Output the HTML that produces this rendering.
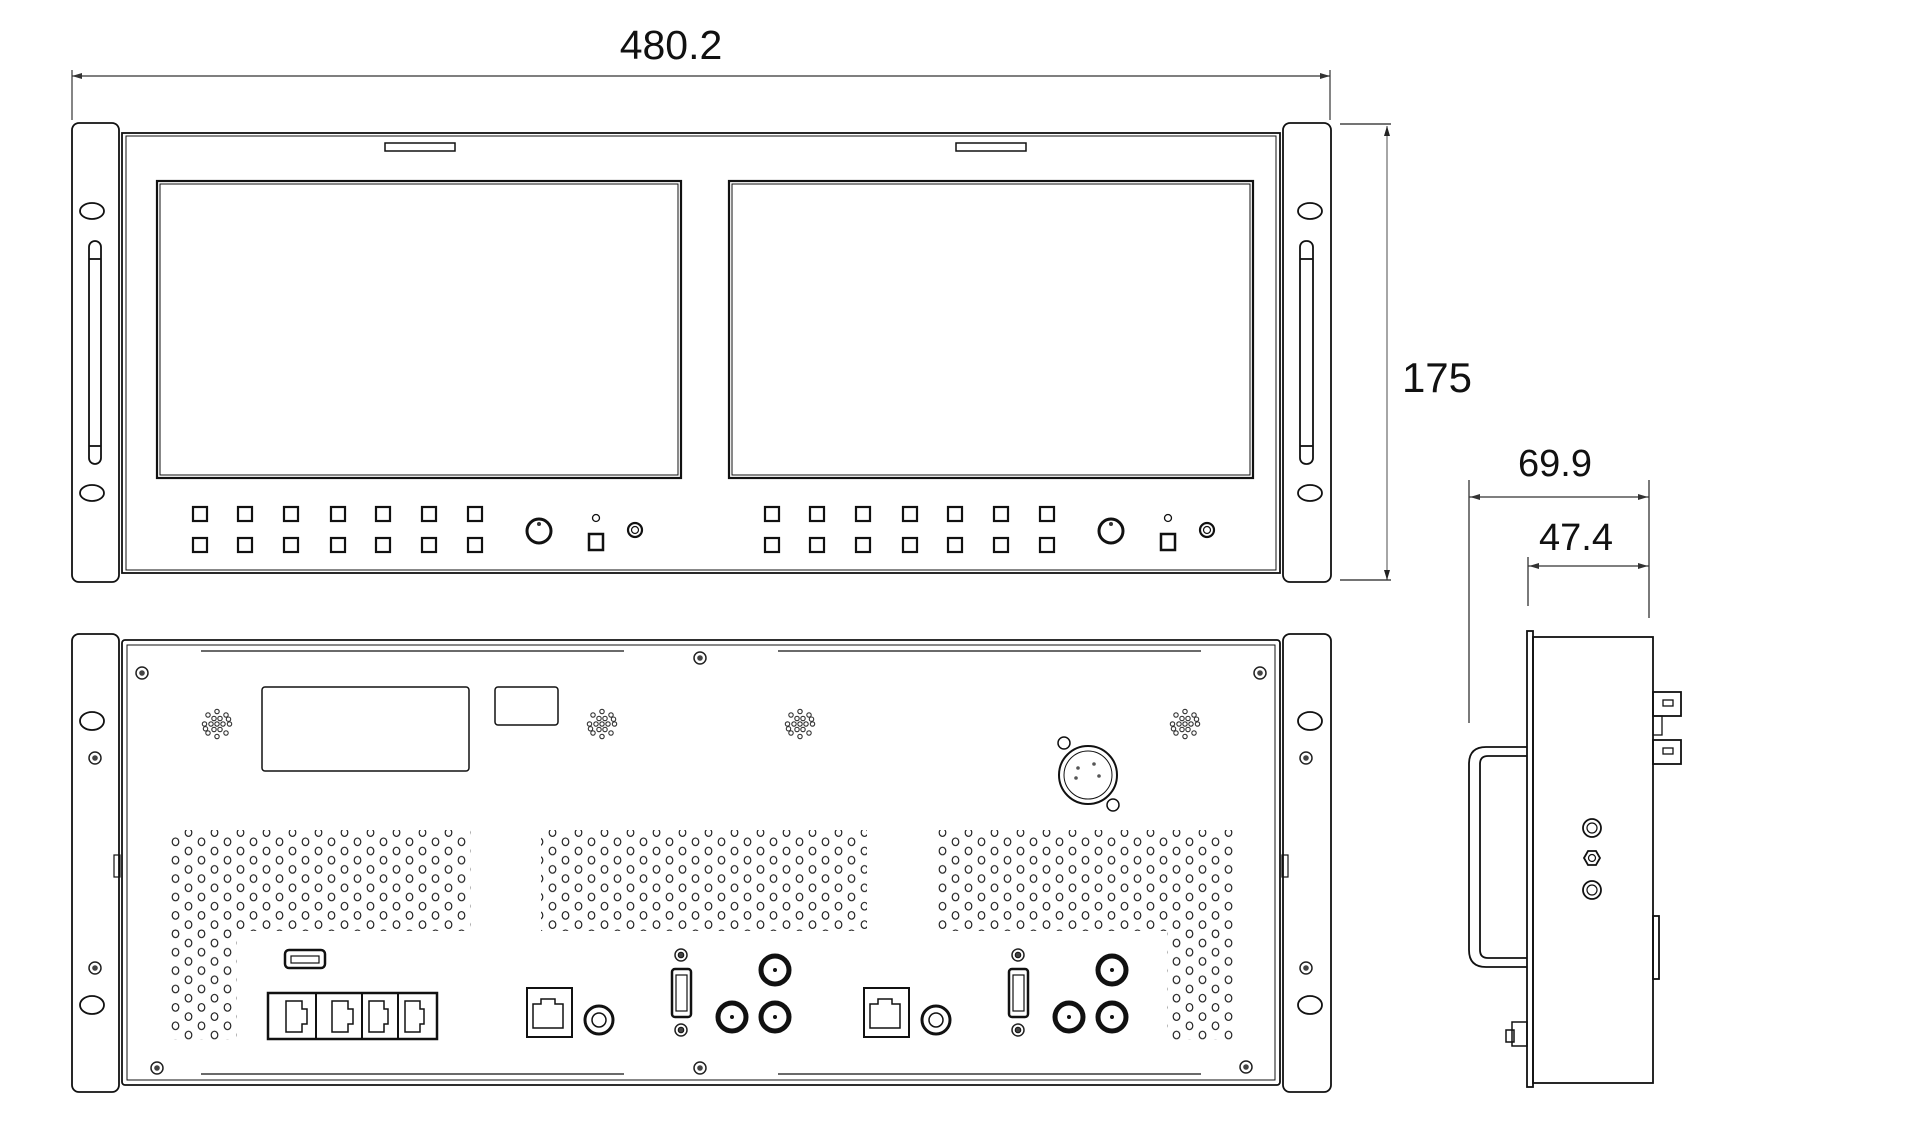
<!DOCTYPE html>
<html><head><meta charset="utf-8"><style>
html,body{margin:0;padding:0;background:#fff}
svg{display:block}
text{font-family:"Liberation Sans",sans-serif;fill:#111}
</style></head><body>
<svg width="1920" height="1139" viewBox="0 0 1920 1139" xmlns="http://www.w3.org/2000/svg">
<defs>
<pattern id="vent" x="0" y="0" width="26" height="18.4" patternUnits="userSpaceOnUse">
<ellipse cx="6.5" cy="4.6" rx="3.3" ry="3.8" fill="none" stroke="#222" stroke-width="1.2"/>
<ellipse cx="19.5" cy="13.8" rx="3.3" ry="3.8" fill="none" stroke="#222" stroke-width="1.2"/>
</pattern>
<g id="spk" fill="none" stroke="#333" stroke-width="1.1">
<circle cx="0" cy="0" r="2.2"/>
<circle cx="6" cy="0" r="2.2"/><circle cx="-6" cy="0" r="2.2"/><circle cx="3" cy="5.5" r="2.2"/><circle cx="-3" cy="5.5" r="2.2"/><circle cx="3" cy="-5.5" r="2.2"/><circle cx="-3" cy="-5.5" r="2.2"/>
<circle cx="12.5" cy="0" r="2.2"/><circle cx="-12.5" cy="0" r="2.2"/><circle cx="0" cy="12.5" r="2.2"/><circle cx="0" cy="-12.5" r="2.2"/>
<circle cx="9" cy="9" r="2.2"/><circle cx="-9" cy="9" r="2.2"/><circle cx="9" cy="-9" r="2.2"/><circle cx="-9" cy="-9" r="2.2"/>
<circle cx="11.5" cy="-4.8" r="2.2"/><circle cx="-11.5" cy="4.8" r="2.2"/>
</g>
<g id="screw"><circle r="6" fill="none" stroke="#222" stroke-width="1.5"/><circle r="2.8" fill="#444"/></g>
<g id="bnc"><circle r="14" fill="none" stroke="#111" stroke-width="5"/><circle r="1.5" fill="#111"/></g>
<g id="fgroup" fill="none" stroke="#111" stroke-width="2.2">
<rect x="193" y="507" width="14" height="14"/><rect x="238" y="507" width="14" height="14"/><rect x="284" y="507" width="14" height="14"/><rect x="331" y="507" width="14" height="14"/><rect x="376" y="507" width="14" height="14"/><rect x="422" y="507" width="14" height="14"/><rect x="468" y="507" width="14" height="14"/>
<rect x="193" y="538" width="14" height="14"/><rect x="238" y="538" width="14" height="14"/><rect x="284" y="538" width="14" height="14"/><rect x="331" y="538" width="14" height="14"/><rect x="376" y="538" width="14" height="14"/><rect x="422" y="538" width="14" height="14"/><rect x="468" y="538" width="14" height="14"/>
<circle cx="539" cy="531" r="12" stroke-width="3"/><circle cx="539" cy="524" r="2" fill="#333" stroke="none"/>
<circle cx="596" cy="518" r="3.5" stroke-width="1.3"/>
<rect x="589" y="534" width="14" height="16" stroke-width="2.5"/>
<circle cx="635" cy="530" r="7" stroke-width="2.2"/><circle cx="635" cy="530" r="3.5" stroke-width="1.2"/>
</g>
<g id="rgroup" fill="none" stroke="#111">
<rect x="527" y="988" width="45" height="49" stroke-width="2"/>
<path d="M533 1028 V1004 h8 v-5 h14 v5 h8 v24 z" stroke-width="1.5"/>
<circle cx="599" cy="1020" r="14" stroke-width="3"/><circle cx="599" cy="1020" r="7" stroke-width="1.5"/>
<use href="#screw" x="681" y="955"/><use href="#screw" x="681" y="1030"/>
<rect x="672" y="969" width="19" height="48" rx="3" stroke-width="2.5"/><rect x="676" y="975" width="11" height="36" stroke-width="1.2"/>
<use href="#bnc" x="775" y="970"/><use href="#bnc" x="732" y="1017"/><use href="#bnc" x="775" y="1017"/>
</g>
</defs>

<!-- top dimension -->
<g stroke="#333" stroke-width="1.2" fill="none">
<line x1="72" y1="76" x2="1330" y2="76"/>
<line x1="72" y1="70" x2="72" y2="120"/><line x1="1330" y1="70" x2="1330" y2="120"/>
</g>
<path d="M72 76 l10 -3 v6 z M1330 76 l-10 -3 v6 z" fill="#333"/>
<text x="671" y="59" font-size="41" text-anchor="middle">480.2</text>

<!-- 175 dimension -->
<g stroke="#777" stroke-width="1.3"><line x1="1387" y1="126" x2="1387" y2="580"/></g>
<g stroke="#222" stroke-width="1.3"><line x1="1340" y1="124" x2="1391" y2="124"/><line x1="1340" y1="580" x2="1391" y2="580"/></g>
<path d="M1387 126 l-3 10 h6 z M1387 580 l-3 -10 h6 z" fill="#222"/>
<text x="1437" y="392" font-size="42" text-anchor="middle">175</text>

<!-- FRONT VIEW -->
<g fill="none" stroke="#111" stroke-width="1.8">
<rect x="72" y="123" width="47" height="459" rx="7"/>
<rect x="1283" y="123" width="48" height="459" rx="7"/>
<ellipse cx="92" cy="211" rx="12" ry="8"/><ellipse cx="92" cy="493" rx="12" ry="8"/>
<ellipse cx="1310" cy="211" rx="12" ry="8"/><ellipse cx="1310" cy="493" rx="12" ry="8"/>
<rect x="89" y="241" width="12" height="223" rx="6"/><line x1="89" y1="259" x2="101" y2="259"/><line x1="89" y1="446" x2="101" y2="446"/>
<rect x="1300" y="241" width="13" height="223" rx="6"/><line x1="1300" y1="259" x2="1313" y2="259"/><line x1="1300" y1="446" x2="1313" y2="446"/>
<rect x="122" y="133" width="1158" height="440"/>
<rect x="126" y="136" width="1150" height="434" stroke-width="1"/>
<rect x="157" y="181" width="524" height="297" stroke-width="2.2"/>
<rect x="160" y="184" width="518" height="291" stroke-width="1"/>
<rect x="729" y="181" width="524" height="297" stroke-width="2.2"/>
<rect x="732" y="184" width="518" height="291" stroke-width="1"/>
<rect x="385" y="143" width="70" height="8" stroke-width="1.5"/>
<rect x="956" y="143" width="70" height="8" stroke-width="1.5"/>
</g>
<use href="#fgroup"/>
<use href="#fgroup" x="572"/>

<!-- REAR VIEW -->
<g fill="none" stroke="#111" stroke-width="1.8">
<rect x="72" y="634" width="47" height="458" rx="7"/>
<rect x="1283" y="634" width="48" height="458" rx="7"/>
<ellipse cx="92" cy="721" rx="12" ry="9"/><ellipse cx="92" cy="1005" rx="12" ry="9"/>
<ellipse cx="1310" cy="721" rx="12" ry="9"/><ellipse cx="1310" cy="1005" rx="12" ry="9"/>
<rect x="122" y="640" width="1158" height="445" rx="3"/>
<rect x="127" y="645" width="1148" height="435" stroke-width="1"/>
<line x1="201" y1="651" x2="624" y2="651" stroke-width="1.2"/><line x1="778" y1="651" x2="1201" y2="651" stroke-width="1.2"/>
<line x1="201" y1="1074" x2="624" y2="1074" stroke-width="1.2"/><line x1="778" y1="1074" x2="1201" y2="1074" stroke-width="1.2"/>
<rect x="262" y="687" width="207" height="84" rx="3" stroke-width="1.5"/>
<rect x="495" y="687" width="63" height="38" rx="3" stroke-width="1.5"/>
<circle cx="1088" cy="775" r="29" stroke-width="2"/><circle cx="1088" cy="775" r="24" stroke-width="1"/>
<circle cx="1064" cy="743" r="6" stroke-width="1.5"/><circle cx="1113" cy="805" r="6" stroke-width="1.5"/>
<rect x="114" y="855" width="6" height="22" stroke-width="1.2"/><rect x="1282" y="855" width="6" height="22" stroke-width="1.2"/>
</g>
<g fill="#555"><circle cx="1078" cy="768" r="1.8"/><circle cx="1094" cy="764" r="1.8"/><circle cx="1076" cy="778" r="1.8"/><circle cx="1099" cy="776" r="1.8"/></g>
<use href="#spk" x="217" y="724"/><use href="#spk" x="602" y="724"/><use href="#spk" x="800" y="724"/><use href="#spk" x="1185" y="724"/>
<use href="#screw" x="142" y="673"/><use href="#screw" x="700" y="658"/><use href="#screw" x="1260" y="673"/>
<use href="#screw" x="157" y="1068"/><use href="#screw" x="700" y="1068"/><use href="#screw" x="1246" y="1067"/>
<use href="#screw" x="95" y="758"/><use href="#screw" x="95" y="968"/><use href="#screw" x="1306" y="758"/><use href="#screw" x="1306" y="968"/>

<!-- vents -->
<rect x="171" y="830" width="300" height="101" fill="url(#vent)"/>
<rect x="171" y="930" width="66" height="110" fill="url(#vent)"/>
<rect x="541" y="830" width="326" height="101" fill="url(#vent)"/>
<rect x="937" y="830" width="300" height="101" fill="url(#vent)"/>
<rect x="1167" y="930" width="66" height="110" fill="url(#vent)"/>

<!-- USB + RJ45 quad -->
<g fill="none" stroke="#111">
<rect x="285" y="950" width="40" height="18" rx="4" stroke-width="2.5"/><rect x="291" y="956" width="28" height="7" stroke-width="1.2"/>
<rect x="268" y="993" width="169" height="46" stroke-width="2.5"/>
<line x1="316" y1="993" x2="316" y2="1039" stroke-width="2"/><line x1="362" y1="993" x2="362" y2="1039" stroke-width="2"/><line x1="398" y1="993" x2="398" y2="1039" stroke-width="2"/>
<path d="M286 1032 V1001 h16 v8 h5 v15 h-5 v8 z M332 1032 V1001 h16 v8 h5 v15 h-5 v8 z M369 1032 V1001 h15 v8 h4 v15 h-4 v8 z M405 1032 V1001 h15 v8 h4 v15 h-4 v8 z" stroke-width="1.5"/>
</g>
<use href="#rgroup"/>
<use href="#rgroup" x="337"/>

<!-- SIDE VIEW -->
<text x="1555" y="476" font-size="38" text-anchor="middle">69.9</text>
<text x="1576" y="550" font-size="38" text-anchor="middle">47.4</text>
<g stroke="#333" stroke-width="1.3">
<line x1="1469" y1="497" x2="1649" y2="497"/><line x1="1469" y1="480" x2="1469" y2="723"/><line x1="1649" y1="480" x2="1649" y2="618"/>
<line x1="1528" y1="566" x2="1649" y2="566"/><line x1="1528" y1="557" x2="1528" y2="606"/>
</g>
<path d="M1470 497 l10 -3 v6 z M1648 497 l-10 -3 v6 z M1529 566 l10 -3 v6 z M1648 566 l-10 -3 v6 z" fill="#333"/>
<g fill="none" stroke="#111" stroke-width="1.8">
<rect x="1527" y="631" width="6" height="456"/>
<rect x="1533" y="637" width="120" height="446"/>
<path d="M1527 747 H1486 Q1469 747 1469 764 V950 Q1469 967 1486 967 H1527"/>
<path d="M1527 756 H1488 Q1480 756 1480 764 V950 Q1480 958 1488 958 H1527"/>
<rect x="1653" y="692" width="28" height="24"/><rect x="1653" y="740" width="28" height="24"/>
<rect x="1653" y="716" width="9" height="19" stroke-width="1.3"/>
<rect x="1663" y="700" width="10" height="6" stroke-width="1.3"/><rect x="1663" y="748" width="10" height="6" stroke-width="1.3"/>
<rect x="1653" y="916" width="6" height="63"/>
<rect x="1512" y="1022" width="15" height="24" stroke-width="1.5"/><rect x="1506" y="1030" width="8" height="12" stroke-width="1.5"/>
<circle cx="1592" cy="828" r="9"/><circle cx="1592" cy="828" r="5" stroke-width="1.2"/>
<polygon points="1584,858 1588,851 1596,851 1600,858 1596,865 1588,865"/><circle cx="1592" cy="858" r="3.5" stroke-width="1.2"/>
<circle cx="1592" cy="890" r="9"/><circle cx="1592" cy="890" r="5" stroke-width="1.2"/>
</g>
</svg>
</body></html>
